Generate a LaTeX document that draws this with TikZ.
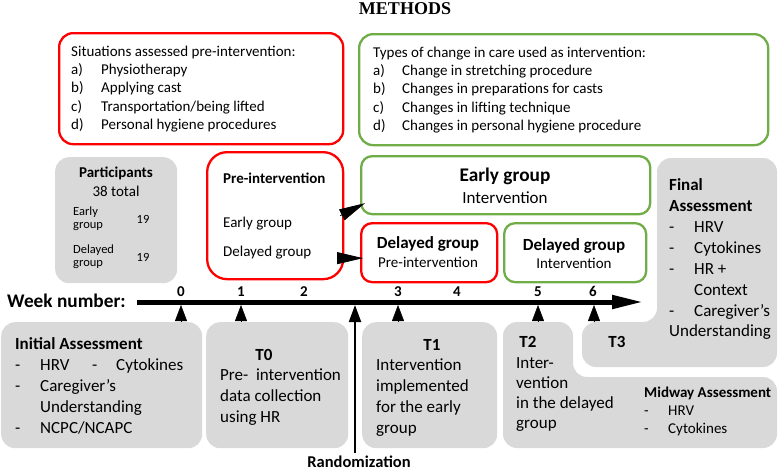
\documentclass[tikz,border=0pt]{standalone}
\usepackage{fontspec}
\setmainfont{Carlito}
\newfontfamily\titlefont{Liberation Serif}
\usetikzlibrary{arrows.meta,calc}
\definecolor{boxred}{HTML}{FF0000}
\definecolor{boxgreen}{HTML}{70AD47}
\definecolor{boxgrey}{HTML}{D9D9D9}
\tikzset{
  redbox/.style={draw=boxred, line width=2.3pt, rounded corners=14pt, anchor=north west, inner sep=0pt, fill=white},
  greenbox/.style={draw=boxgreen, line width=2.3pt, rounded corners=14pt, anchor=north west, inner sep=0pt, fill=white},
  greybox/.style={fill=boxgrey, rounded corners=14pt, anchor=north west, inner sep=0pt},
  lt/.style={anchor=base west, inner sep=0pt},
  ct/.style={anchor=base, inner sep=0pt},
  sa/.style={font=\fontsize{12.5}{13}\selectfont},
  sb/.style={font=\fontsize{15}{18}\selectfont},
  sbb/.style={font=\bfseries\fontsize{15}{18}\selectfont},
  sc/.style={font=\fontsize{17}{20}\selectfont},
  scb/.style={font=\bfseries\fontsize{17}{20}\selectfont},
  sdb/.style={font=\bfseries\fontsize{19.3}{22}\selectfont},
  tri/.style={-{Triangle[length=16pt,width=12pt]}, line width=0.5pt},
  bigarr/.style={-{Triangle[length=26pt,width=12pt]}, line width=0.8pt},
}
\begin{document}
\begin{tikzpicture}[x=1pt,y=-1pt]
\useasboundingbox (0,0) rectangle (778,471);
\node[ct, font=\titlefont\bfseries\fontsize{18}{20}\selectfont] (title) at (405,14.5) {METHODS};

% ---- top boxes
\node[redbox, minimum width=284pt, minimum height=111pt] (sit) at (58,32) {};
\node[lt,sb] (sit0) at (71,56) {Situations assessed pre-intervention:};
\foreach \lab/\txt [count=\i] in {a)/Physiotherapy, b)/Applying cast, c)/{Transportation/being lifted}, d)/Personal hygiene procedures}{
  \node[lt,sb] (sitl\i) at (71,{56+18.4*\i}) {\lab};
  \node[lt,sb] (siti\i) at (101,{56+18.4*\i}) {\txt};
}
\node[greenbox, minimum width=409pt, minimum height=111pt] (typ) at (358,33) {};
\node[lt,sb] (typ0) at (373,57) {Types of change in care used as intervention:};
\foreach \lab/\txt [count=\i] in {a)/Change in stretching procedure, b)/Changes in preparations for casts, c)/Changes in lifting technique, d)/Changes in personal hygiene procedure}{
  \node[lt,sb] (typl\i) at (373,{57+18.4*\i}) {\lab};
  \node[lt,sb] (typi\i) at (402,{57+18.4*\i}) {\txt};
}

% ---- participants
\node[greybox, minimum width=122pt, minimum height=126pt] (part) at (55,157) {};
\node[ct,sbb] (parth) at (116,177) {Participants};
\node[ct,sb] (partt) at (116,196) {38 total};
\node[lt,sa] (pe1) at (73,215) {Early};
\node[lt,sa] (pe2) at (73,228) {group};
\node[ct,sa] (pen) at (143,223) {19};
\node[lt,sa] (pd1) at (73,253) {Delayed};
\node[lt,sa] (pd2) at (73,266) {group};
\node[ct,sa] (pdn) at (143,261) {19};

% ---- pre-intervention
\node[redbox, rounded corners=20pt, minimum width=136pt, minimum height=127pt] (pre) at (206,151) {};
\node[lt,sbb] (preh) at (223,183) {Pre-intervention};
\node[lt,sb] (pree) at (223,227) {Early group};
\node[lt,sb] (pred) at (223,256) {Delayed group};

% ---- group boxes
\node[greenbox, rounded corners=11pt, minimum width=289pt, minimum height=58pt] (early) at (360,155) {};
\node[ct,sdb] (earlyh) at (505,181) {Early group};
\node[ct,sc] (earlyt) at (505,203) {Intervention};
\node[redbox, rounded corners=11pt, minimum width=136pt, minimum height=59pt] (dpre) at (360,222) {};
\node[ct,scb] (dpreh) at (428,248) {Delayed group};
\node[ct,sb] (dpret) at (428,267) {Pre-intervention};
\node[greenbox, rounded corners=11pt, minimum width=142pt, minimum height=59pt] (dint) at (503,222) {};
\node[ct,scb] (dinth) at (574,250) {Delayed group};
\node[ct,sb] (dintt) at (574,268) {Intervention};

\draw[bigarr] ([xshift=-4pt]pre.east) -- ([xshift=5pt,yshift=-18pt]early.west);
\draw[bigarr] ([xshift=-7pt,yshift=-42.5pt]pre.east) -- ([xshift=3pt,yshift=-5.5pt]dpre.west);

% ---- final assessment / T3
\path[fill=boxgrey, rounded corners=14pt] (582,322) -- (657,322) -- (657,158) -- (777,158) -- (777,367) -- (582,367) -- cycle;
\node[lt,scb] (fin1) at (669,190) {Final};
\node[lt,scb] (fin2) at (669,211) {Assessment};
\foreach \txt [count=\i] in {HRV, Cytokines, HR +}{
  \node[lt,sc] (find\i) at (669,{211+21*\i}) {-};
  \node[lt,sc] (fint\i) at (694,{211+21*\i}) {\txt};
}
\node[lt,sc] (fin6) at (694,295) {Context};
\node[lt,sc] (fin7d) at (669,316) {-};
\node[lt,sc] (fin7) at (694,316) {Caregiver’s};
\node[lt,sc] (fin8) at (669,336) {Understanding};
\node[ct,scb] (t3) at (617,347) {T3};

% ---- T2 / midway
\path[fill=boxgrey, rounded corners=14pt] (503,322) -- (573,322) -- (573,377) -- (777,377) -- (777,448) -- (503,448) -- cycle;
\node[ct,scb] (t2) at (528,347) {T2};
\foreach \txt [count=\i] in {Inter-, vention, in the delayed, group}{
  \node[lt,sc] (t2l\i) at (516,{348+20*\i}) {\txt};
}
\node[lt,sbb] (mid) at (644,397) {Midway Assessment};
\node[lt,sb] (midd1) at (644,415) {-};
\node[lt,sb] (midt1) at (668,415) {HRV};
\node[lt,sb] (midd2) at (644,433) {-};
\node[lt,sb] (midt2) at (668,433) {Cytokines};

% ---- initial assessment
\node[greybox, minimum width=201pt, minimum height=126pt] (init) at (1,322) {};
\node[lt,scb] (inith) at (15,349) {Initial Assessment};
\node[lt,sc] (initd1) at (15,370) {-};
\node[lt,sc] (initt1) at (40,370) {HRV};
\node[lt,sc] (initd1b) at (92,370) {-};
\node[lt,sc] (initt1b) at (116,370) {Cytokines};
\node[lt,sc] (initd2) at (15,391) {-};
\node[lt,sc] (initt2) at (40,391) {Caregiver’s};
\node[lt,sc] (initt3) at (40,412) {Understanding};
\node[lt,sc] (initd4) at (15,433) {-};
\node[lt,sc] (initt4) at (40,433) {NCPC/NCAPC};

% ---- T0
\node[greybox, minimum width=142pt, minimum height=126pt] (t0) at (206,322) {};
\node[ct,scb] (t0h) at (264,360) {T0};
\node[lt,sc] (t0l1) at (220,380) {Pre-\ \ intervention};
\node[lt,sc] (t0l2) at (220,401) {data collection};
\node[lt,sc] (t0l3) at (220,422) {using HR};

% ---- T1
\node[greybox, minimum width=135pt, minimum height=126pt] (t1) at (362,322) {};
\node[ct,scb] (t1h) at (432,350) {T1};
\foreach \txt [count=\i] in {Intervention, implemented, for the early, group}{
  \node[lt,sc] (t1l\i) at (376,{349+21*\i}) {\txt};
}

% ---- timeline
\node[lt,sdb] (week) at (7,307) {Week number:};
\coordinate (tls) at (137,302);
\coordinate (tle) at (643,302);
\coordinate (tlb) at (137,305);
\draw[line width=5pt, -{Triangle[length=31pt,width=13pt]}] (tls) -- (tle);
\foreach \n/\xx in {0/181,1/241,2/304,3/398,4/457,5/538,6/593}{
  \node[ct,sbb] (w\n) at (\xx,296) {\n};
}
\coordinate (t2top) at (538,322);
\coordinate (t3top) at (594,322);
\draw[tri] (init.north -| w0) -- (tlb -| w0);
\draw[tri] (t0.north -| w1) -- (tlb -| w1);
\draw[tri] (t1.north -| w3) -- (tlb -| w3);
\draw[tri] (t2top) -- (tlb -| t2top);
\draw[tri] (t3top) -- (tlb -| t3top);

\node[ct, font=\bfseries\fontsize{16.5}{18}\selectfont] (rand) at (359,467) {Randomization};
\coordinate (randbot) at (355,453);
\draw[line width=2pt, -{Triangle[length=17pt,width=12pt]}] (randbot) -- (tlb -| randbot);
\end{tikzpicture}
\end{document}
